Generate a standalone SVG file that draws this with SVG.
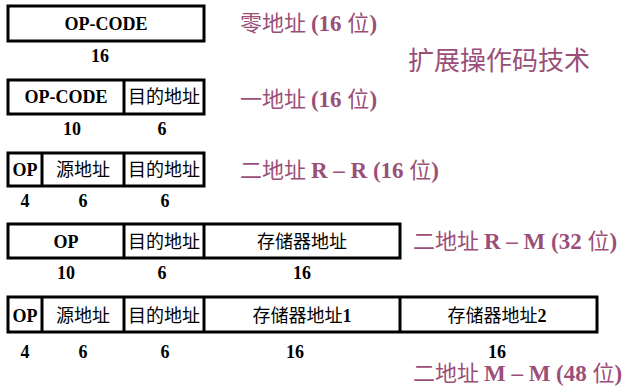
<svg xmlns="http://www.w3.org/2000/svg" width="630" height="391" viewBox="0 0 630 391">
<style>
.box{fill:#fff;stroke:#000;stroke-width:3}
.div{stroke:#000;stroke-width:3}
.b{font-family:'Liberation Serif','Times New Roman','DejaVu Serif',serif;font-weight:700;font-size:18px;fill:#000;text-anchor:middle}
.c{font-family:'Noto Sans CJK SC',sans-serif;font-size:18px;fill:#000;text-anchor:middle}
.lab{font-family:'Noto Sans CJK SC',sans-serif;font-size:22px;fill:#9b4f78}
.lat{font-family:'Liberation Serif','Times New Roman','DejaVu Serif',serif;font-weight:700}
.lab .lat{font-size:23px}
.big{font-size:26px}
</style>
<rect width="630" height="391" fill="#fff"/>
<g id="row1">
<rect class="box" x="8" y="6" width="196" height="35"/>
<text class="b" x="106" y="30">OP-CODE</text>
<text class="b" x="100" y="62">16</text>
</g>
<g id="row2">
<rect class="box" x="8" y="80" width="196" height="34"/>
<line class="div" x1="124" y1="80" x2="124" y2="114"/>
<text class="b" x="66" y="103">OP-CODE</text>
<text class="c" x="164" y="103">目的地址</text>
<text class="b" x="72" y="135">10</text>
<text class="b" x="162" y="135">6</text>
</g>
<g id="row3">
<rect class="box" x="8" y="153" width="196" height="33"/>
<line class="div" x1="42" y1="153" x2="42" y2="186"/>
<line class="div" x1="124" y1="153" x2="124" y2="186"/>
<text class="b" x="25" y="176">OP</text>
<text class="c" x="83" y="176">源地址</text>
<text class="c" x="164" y="176">目的地址</text>
<text class="b" x="25" y="207">4</text>
<text class="b" x="83" y="207">6</text>
<text class="b" x="165" y="207">6</text>
</g>
<g id="row4">
<rect class="box" x="8" y="224" width="392" height="34"/>
<line class="div" x1="124" y1="224" x2="124" y2="258"/>
<line class="div" x1="204" y1="224" x2="204" y2="258"/>
<text class="b" x="66" y="248">OP</text>
<text class="c" x="164" y="248">目的地址</text>
<text class="c" x="302" y="248">存储器地址</text>
<text class="b" x="66" y="279">10</text>
<text class="b" x="162" y="279">6</text>
<text class="b" x="302" y="279">16</text>
</g>
<g id="row5">
<rect class="box" x="8" y="297" width="589" height="35"/>
<line class="div" x1="42" y1="297" x2="42" y2="332"/>
<line class="div" x1="124" y1="297" x2="124" y2="332"/>
<line class="div" x1="204" y1="297" x2="204" y2="332"/>
<line class="div" x1="400" y1="297" x2="400" y2="332"/>
<text class="b" x="25" y="322">OP</text>
<text class="c" x="83" y="322">源地址</text>
<text class="c" x="164" y="322">目的地址</text>
<text class="c" x="302" y="322">存储器地址<tspan class="lat">1</tspan></text>
<text class="c" x="497" y="322">存储器地址<tspan class="lat">2</tspan></text>
<text class="b" x="25" y="358">4</text>
<text class="b" x="83" y="358">6</text>
<text class="b" x="165" y="358">6</text>
<text class="b" x="295" y="358">16</text>
<text class="b" x="497" y="358">16</text>
</g>
<g id="labels">
<text class="lab" x="240" y="31">零地址 <tspan class="lat">(16 </tspan>位<tspan class="lat">)</tspan></text>
<text class="lab big" x="408" y="70">扩展操作码技术</text>
<text class="lab" x="240" y="107">一地址 <tspan class="lat">(16 </tspan>位<tspan class="lat">)</tspan></text>
<text class="lab" x="240" y="178">二地址 <tspan class="lat">R – R (16 </tspan>位<tspan class="lat">)</tspan></text>
<text class="lab" x="413" y="249">二地址 <tspan class="lat">R – M (32 </tspan>位<tspan class="lat">)</tspan></text>
<text class="lab" x="413" y="381">二地址 <tspan class="lat">M – M (48 </tspan>位<tspan class="lat">)</tspan></text>
</g>
</svg>
